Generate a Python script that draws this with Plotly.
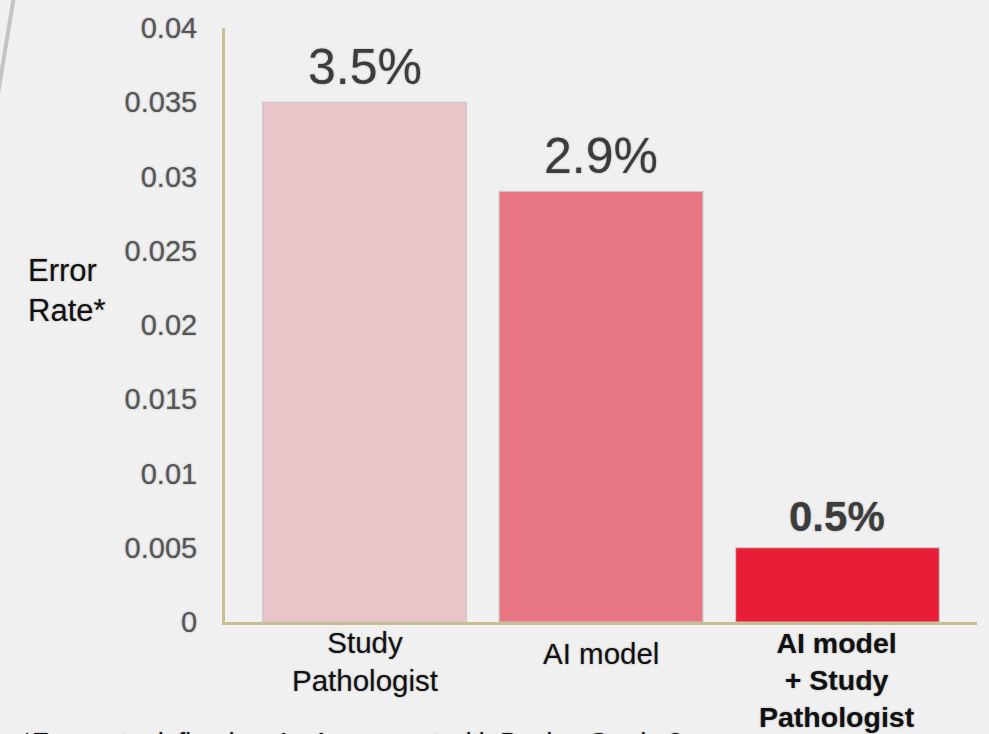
import plotly.graph_objects as go

categories = ["Study<br>Pathologist", "AI model", "<b>AI model<br>+ Study<br>Pathologist</b>"]
error_rates = [0.035, 0.029, 0.005]
bar_colors = ["#e9c4c9", "#e87582", "#e81e36"]
label_bold = [False, False, True]
ytick_vals = [0, 0.005, 0.01, 0.015, 0.02, 0.025, 0.03, 0.035, 0.04]
ytick_text = ["0", "0.005", "0.01", "0.015", "0.02", "0.025", "0.03", "0.035", "0.04"]
y_title = "Error<br>Rate*"
footnote = "*Error rate defined as 1 - Agreement with Benign Grade 2"

W, H = 989, 734
L, R, T, B = 225, 12, 28, 112
pw, ph = W - L - R, H - T - B
FONT = "Liberation Sans, Arial, sans-serif"
HALO = "0px 0px 2px #9a9a9a"

def px_x(p):
    return (p - L) / pw

def px_y(p):
    return (H - B - p) / ph

xs = list(range(len(categories)))

fig = go.Figure()
fig.add_trace(go.Bar(
    x=xs, y=error_rates,
    marker=dict(color=bar_colors, line=dict(color="#c9c9c9", width=1.2)),
    hoverinfo="skip", showlegend=False,
))

annotations = []
# value labels above bars
for x, v, b in zip(xs, error_rates, label_bold):
    txt = f"{v*100:.1f}%"
    annotations.append(dict(
        x=x, y=v, xref="x", yref="y", text=f"<b>{txt}</b>" if b else txt,
        showarrow=False, yanchor="middle", yshift=31 if b else 35,
        font=dict(family=FONT, size=42 if b else 50, color="#3c3c3c", shadow=HALO),
    ))
# category labels
cat_shift = [-2, -13, -3]
cat_size = [29.5, 29.5, 28.5]
for x, c, s, fs in zip(xs, categories, cat_shift, cat_size):
    annotations.append(dict(
        x=x, y=0, xref="x", yref="paper", text=c, showarrow=False,
        yanchor="top", yshift=s, align="center",
        font=dict(family=FONT, size=fs, color="#111111", shadow=HALO),
    ))
# y title
annotations.append(dict(
    x=px_x(26), y=px_y(290), xref="paper", yref="paper", text=y_title,
    showarrow=False, xanchor="left", yanchor="middle", align="left",
    font=dict(family=FONT, size=31, color="#111111", shadow=HALO),
))
# footnote (cut off at bottom)
annotations.append(dict(
    x=px_x(20), y=px_y(725), xref="paper", yref="paper", text=footnote,
    showarrow=False, xanchor="left", yanchor="top", align="left",
    font=dict(family=FONT, size=26, color="#111111", shadow=HALO),
))

fig.update_layout(
    width=W, height=H,
    margin=dict(l=L, r=R, t=T, b=B, pad=0),
    paper_bgcolor="#f0f0f0", plot_bgcolor="#f0f0f0",
    bargap=0.138,
    annotations=annotations,
    shapes=[dict(type="line", xref="paper", yref="paper",
                 x0=px_x(14), y0=px_y(-4), x1=px_x(-3), y1=px_y(100),
                 line=dict(color="#c4c4c4", width=4))],
    xaxis=dict(range=[-0.59, 2.59], showticklabels=False, ticks="",
               showgrid=False, zeroline=False, showline=True,
               linecolor="#c7bf93", linewidth=3, fixedrange=True),
    yaxis=dict(range=[0, 0.04], tickvals=ytick_vals, ticktext=ytick_text,
               showgrid=False, zeroline=False, showline=True,
               linecolor="#c7bf93", linewidth=3, ticks="",
               ticklabelstandoff=19,
               tickfont=dict(family=FONT, size=29, color="#555555", shadow=HALO)),
    font=dict(family=FONT),
)

fig.write_html(
    "out.html",
    config={"displayModeBar": False},
    post_script="document.body.style.margin='0';document.body.style.overflow='hidden';",
)
